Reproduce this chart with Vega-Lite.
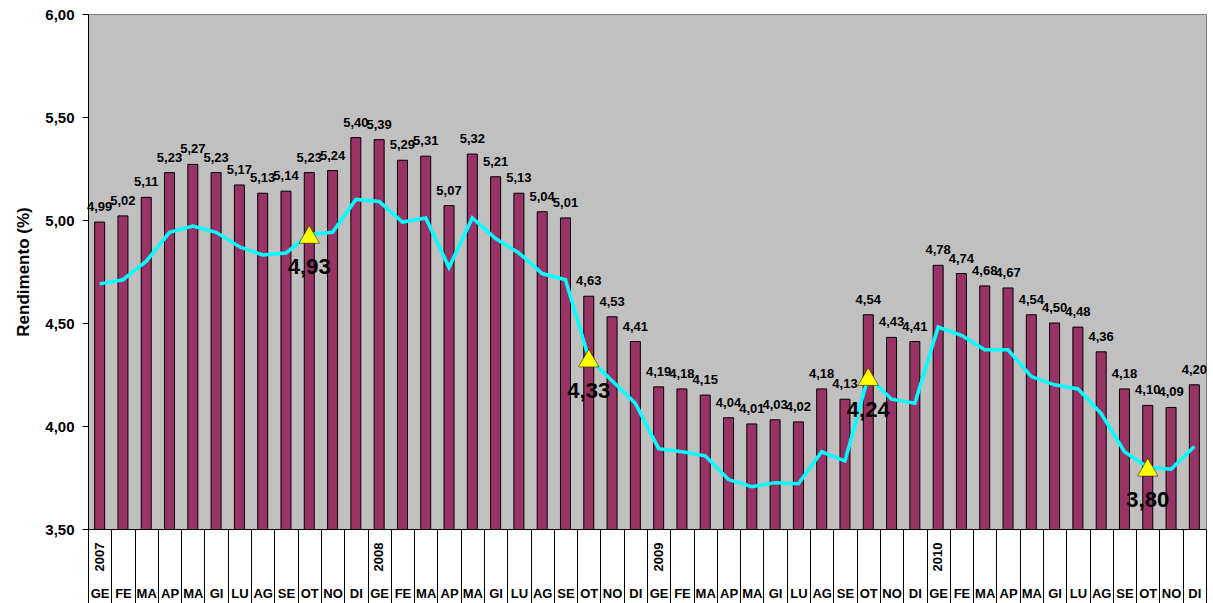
{
  "$schema": "https://vega.github.io/schema/vega-lite/v6.json",
  "width": 1118,
  "height": 515,
  "autosize": {"type": "none"},
  "padding": {"left": 88, "top": 14, "right": 7, "bottom": 74},
  "background": "white",
  "config": {
    "view": {"fill": "#C0C0C0", "stroke": "#808080", "strokeWidth": 1}
  },
  "data": {"values": [
    {"k": "2007-01 GE", "m": "GE", "a": "2007", "v": 4.99, "l": 4.69},
    {"k": "2007-02 FE", "m": "FE", "a": "2007", "v": 5.02, "l": 4.71},
    {"k": "2007-03 MA", "m": "MA", "a": "2007", "v": 5.11, "l": 4.80},
    {"k": "2007-04 AP", "m": "AP", "a": "2007", "v": 5.23, "l": 4.94},
    {"k": "2007-05 MA", "m": "MA", "a": "2007", "v": 5.27, "l": 4.97},
    {"k": "2007-06 GI", "m": "GI", "a": "2007", "v": 5.23, "l": 4.94},
    {"k": "2007-07 LU", "m": "LU", "a": "2007", "v": 5.17, "l": 4.87},
    {"k": "2007-08 AG", "m": "AG", "a": "2007", "v": 5.13, "l": 4.83},
    {"k": "2007-09 SE", "m": "SE", "a": "2007", "v": 5.14, "l": 4.84},
    {"k": "2007-10 OT", "m": "OT", "a": "2007", "v": 5.23, "l": 4.93, "t": 4.93},
    {"k": "2007-11 NO", "m": "NO", "a": "2007", "v": 5.24, "l": 4.94},
    {"k": "2007-12 DI", "m": "DI", "a": "2007", "v": 5.40, "l": 5.10},
    {"k": "2008-01 GE", "m": "GE", "a": "2008", "v": 5.39, "l": 5.09},
    {"k": "2008-02 FE", "m": "FE", "a": "2008", "v": 5.29, "l": 4.99},
    {"k": "2008-03 MA", "m": "MA", "a": "2008", "v": 5.31, "l": 5.01},
    {"k": "2008-04 AP", "m": "AP", "a": "2008", "v": 5.07, "l": 4.77},
    {"k": "2008-05 MA", "m": "MA", "a": "2008", "v": 5.32, "l": 5.01},
    {"k": "2008-06 GI", "m": "GI", "a": "2008", "v": 5.21, "l": 4.91},
    {"k": "2008-07 LU", "m": "LU", "a": "2008", "v": 5.13, "l": 4.84},
    {"k": "2008-08 AG", "m": "AG", "a": "2008", "v": 5.04, "l": 4.74},
    {"k": "2008-09 SE", "m": "SE", "a": "2008", "v": 5.01, "l": 4.71},
    {"k": "2008-10 OT", "m": "OT", "a": "2008", "v": 4.63, "l": 4.33, "t": 4.33},
    {"k": "2008-11 NO", "m": "NO", "a": "2008", "v": 4.53, "l": 4.22},
    {"k": "2008-12 DI", "m": "DI", "a": "2008", "v": 4.41, "l": 4.11},
    {"k": "2009-01 GE", "m": "GE", "a": "2009", "v": 4.19, "l": 3.89},
    {"k": "2009-02 FE", "m": "FE", "a": "2009", "v": 4.18, "l": 3.875},
    {"k": "2009-03 MA", "m": "MA", "a": "2009", "v": 4.15, "l": 3.855},
    {"k": "2009-04 AP", "m": "AP", "a": "2009", "v": 4.04, "l": 3.74},
    {"k": "2009-05 MA", "m": "MA", "a": "2009", "v": 4.01, "l": 3.705},
    {"k": "2009-06 GI", "m": "GI", "a": "2009", "v": 4.03, "l": 3.725},
    {"k": "2009-07 LU", "m": "LU", "a": "2009", "v": 4.02, "l": 3.72},
    {"k": "2009-08 AG", "m": "AG", "a": "2009", "v": 4.18, "l": 3.875},
    {"k": "2009-09 SE", "m": "SE", "a": "2009", "v": 4.13, "l": 3.83},
    {"k": "2009-10 OT", "m": "OT", "a": "2009", "v": 4.54, "l": 4.24, "t": 4.24},
    {"k": "2009-11 NO", "m": "NO", "a": "2009", "v": 4.43, "l": 4.13},
    {"k": "2009-12 DI", "m": "DI", "a": "2009", "v": 4.41, "l": 4.11},
    {"k": "2010-01 GE", "m": "GE", "a": "2010", "v": 4.78, "l": 4.48},
    {"k": "2010-02 FE", "m": "FE", "a": "2010", "v": 4.74, "l": 4.44},
    {"k": "2010-03 MA", "m": "MA", "a": "2010", "v": 4.68, "l": 4.37},
    {"k": "2010-04 AP", "m": "AP", "a": "2010", "v": 4.67, "l": 4.37},
    {"k": "2010-05 MA", "m": "MA", "a": "2010", "v": 4.54, "l": 4.24},
    {"k": "2010-06 GI", "m": "GI", "a": "2010", "v": 4.50, "l": 4.20},
    {"k": "2010-07 LU", "m": "LU", "a": "2010", "v": 4.48, "l": 4.18},
    {"k": "2010-08 AG", "m": "AG", "a": "2010", "v": 4.36, "l": 4.06},
    {"k": "2010-09 SE", "m": "SE", "a": "2010", "v": 4.18, "l": 3.875},
    {"k": "2010-10 OT", "m": "OT", "a": "2010", "v": 4.10, "l": 3.80, "t": 3.80},
    {"k": "2010-11 NO", "m": "NO", "a": "2010", "v": 4.09, "l": 3.79},
    {"k": "2010-12 DI", "m": "DI", "a": "2010", "v": 4.20, "l": 3.90}
  ]},
  "layer": [
    {
      "mark": {"type": "bar", "size": 10, "clip": true, "fill": "#993366", "stroke": "#000000", "strokeWidth": 1},
      "encoding": {
        "x": {
          "field": "k", "type": "ordinal",
          "scale": {"paddingInner": 0, "paddingOuter": 0},
          "axis": {
            "title": null, "labelAngle": 0, "labelExpr": "isString(datum.value) ? substring(datum.value, 8) : ''",
            "tickBand": "extent", "tickSize": 74, "tickColor": "#000000", "tickWidth": 1,
            "domainColor": "#000000", "domainWidth": 1,
            "labelFont": "Liberation Sans", "labelFontWeight": "bold", "labelFontSize": 13, "labelColor": "#000000",
            "labelPadding": -16, "labelBaseline": "top"
          }
        },
        "y": {
          "field": "v", "type": "quantitative",
          "scale": {"domain": [3.5, 6], "zero": false, "nice": false},
          "axis": {
            "title": "Rendimento (%)", "values": [3.5, 4, 4.5, 5, 5.5, 6],
            "labelExpr": "replace(format(datum.value, '.2f'), '.', ',')",
            "grid": false, "domainColor": "#000000", "tickColor": "#000000", "tickSize": 6,
            "labelFont": "Liberation Sans", "labelFontWeight": "bold", "labelFontSize": 15, "labelColor": "#000000",
            "labelPadding": 8,
            "titleFont": "Liberation Sans", "titleFontWeight": "bold", "titleFontSize": 17, "titleColor": "#000000",
            "titlePadding": 12
          }
        }
      }
    },
    {
      "transform": [{"calculate": "replace(format(datum.v, '.2f'), '.', ',')", "as": "vs"}],
      "mark": {"type": "text", "font": "Liberation Sans", "fontWeight": "bold", "fontSize": 13, "color": "#000000", "baseline": "alphabetic", "dy": -11, "align": "center"},
      "encoding": {
        "x": {"field": "k", "type": "ordinal"},
        "y": {"field": "v", "type": "quantitative"},
        "text": {"field": "vs", "type": "nominal"}
      }
    },
    {
      "mark": {"type": "line", "color": "#00FFFF", "strokeWidth": 3.5},
      "encoding": {
        "x": {"field": "k", "type": "ordinal"},
        "y": {"field": "l", "type": "quantitative"}
      }
    },
    {
      "transform": [{"filter": "isValid(datum.t)"}],
      "mark": {"type": "point", "shape": "triangle-up", "size": 420, "filled": true, "color": "#FFFF00", "stroke": "#000000", "strokeWidth": 0.5, "opacity": 1},
      "encoding": {
        "x": {"field": "k", "type": "ordinal"},
        "y": {"field": "t", "type": "quantitative"}
      }
    },
    {
      "transform": [{"filter": "isValid(datum.t)"}, {"calculate": "replace(format(datum.t, '.2f'), '.', ',')", "as": "ts"}],
      "mark": {"type": "text", "font": "Liberation Sans", "fontWeight": "bold", "fontSize": 22, "color": "#000000", "baseline": "top", "dy": 23, "align": "center"},
      "encoding": {
        "x": {"field": "k", "type": "ordinal"},
        "y": {"field": "t", "type": "quantitative"},
        "text": {"field": "ts", "type": "nominal"}
      }
    },
    {
      "transform": [{"filter": "datum.m == 'GE'"}],
      "mark": {"type": "text", "font": "Liberation Sans", "fontWeight": "bold", "fontSize": 13, "color": "#000000", "angle": 270, "align": "center", "baseline": "middle", "dx": -28},
      "encoding": {
        "x": {"field": "k", "type": "ordinal"},
        "y": {"datum": 3.5},
        "text": {"field": "a", "type": "nominal"}
      }
    }
  ]
}
